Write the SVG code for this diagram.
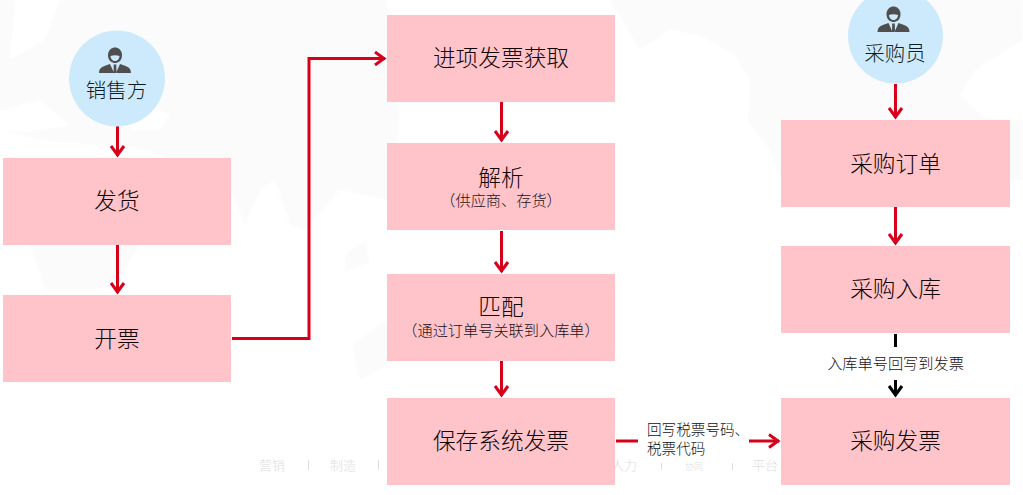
<svg xmlns="http://www.w3.org/2000/svg" width="1023" height="495" viewBox="0 0 1023 495">
<style>
text{font-family:"Liberation Sans","Noto Sans CJK SC",sans-serif;text-anchor:middle;font-weight:300}
.box{fill:#ffc4ca}
.circ{fill:#cdeafd}
.t{font-size:22.7px;fill:#100406}
.c{font-size:20.5px;fill:#101c24}
.s{font-size:15.2px;fill:#1c1216}
.l{font-size:14.6px;fill:#111;text-anchor:start}
.w{font-size:13px;fill:#dedede}
.map{fill:#fbfbfb}
.sep{stroke:#ddd;stroke-width:1}
.r{fill:none;stroke:#d7001b;stroke-width:3}
.k{fill:none;stroke:#000;stroke-width:3}
</style>
<defs>
<filter id="soft"><feGaussianBlur stdDeviation="1.2"/></filter>
<marker id="ar" markerUnits="userSpaceOnUse" markerWidth="16" markerHeight="16" refX="12" refY="8" orient="auto"><path d="M2 1.500L11 8L2 14.500" fill="none" stroke="#d7001b" stroke-width="3"/></marker>
<marker id="ak" markerUnits="userSpaceOnUse" markerWidth="16" markerHeight="16" refX="12" refY="8" orient="auto"><path d="M2 1.500L11 8L2 14.500" fill="none" stroke="#000" stroke-width="3"/></marker>
<g id="person"><path d="M-7-10C-7.500-16-3-18.500 0-18.500S7.500-16 7-10C6.500-5 3-3 0-3S-6.500-5-7-10Z" fill="#4f4f4f"/><path d="M-4.500-10C-4.500-7-2-5 0-5S4.500-7 4.500-10C2-11-2-11-4.500-10Z" fill="#cdeafd"/><path d="M-16 7C-16 1-11 0-5-2L-1 7ZM16 7C16 1 11 0 5-2L1 7ZM-1.300-1.500H1.300L1.500 7H-1.500Z" fill="#4f4f4f"/></g>
</defs>
<rect width="1023" height="495" fill="#fff"/>
<g id="background">
<g filter="url(#soft)">
<path class="map" d="M0 0H610L640 50L670 30L700 35L735 55L750 80L748 120L770 150L781 180H1023V120H1012L985 118L960 95L975 70L1023 40V0L0 0V0L0 130L40 140L150 150L231 190L245 225L260 190L275 180L290 225L305 230L340 190L387 200L400 120L387 0H0Z"/>
<path class="map" d="M30 245L45 290H95L115 285L140 245Z"/>
<path class="map" d="M345 255L365 240L370 262L345 272ZM352 345L387 320V365L360 380Z"/>
<path d="M15 0L60 0L45 40L10 60ZM0 110L40 100L70 125L30 132L0 130ZM140 100L170 115L160 130L130 130Z" fill="#fff"/>
</g>
<g class="w"><text x="272" y="470">营销</text><text x="343" y="470">制造</text><text x="624" y="470">人力</text><text x="694" y="470" style="font-size:9px">协同</text><text x="765" y="470">平台</text></g>
<path class="sep" d="M308.500 460V470M378.500 460V470M661.500 463V470M732.500 463V470"/>
</g>
<g id="connectors">
<path class="r" d="M117.500 124V156" marker-end="url(#ar)"/>
<path class="r" d="M117.500 245V293" marker-end="url(#ar)"/>
<path class="r" d="M232 338.500H309V58.500H385" marker-end="url(#ar)"/>
<path class="r" d="M501.500 102V141" marker-end="url(#ar)"/>
<path class="r" d="M501.500 231V272" marker-end="url(#ar)"/>
<path class="r" d="M501.500 361V396" marker-end="url(#ar)"/>
<path class="r" d="M616 441H638"/>
<path class="r" d="M749 441H779" marker-end="url(#ar)"/>
<path class="r" d="M895.500 84V118" marker-end="url(#ar)"/>
<path class="r" d="M895.500 207V244" marker-end="url(#ar)"/>
<path class="k" d="M895.500 334V347"/>
<path class="k" d="M895.500 380V396" marker-end="url(#ak)"/>
<text class="s" x="895.500" y="369">入库单号回写到发票</text>
<text class="l" x="647" y="435">回写税票号码、</text>
<text class="l" x="647" y="454">税票代码</text>
</g>
<g id="seller"><circle class="circ" cx="117" cy="78.500" r="48"/><use href="#person" x="115" y="66"/><text class="c" x="116.500" y="98">销售方</text></g>
<g id="ship"><rect class="box" x="3" y="158" width="228" height="87"/><text class="t" x="117" y="209">发货</text></g>
<g id="invoice"><rect class="box" x="3" y="295" width="228" height="87"/><text class="t" x="117" y="347">开票</text></g>
<g id="fetch"><rect class="box" x="387" y="15" width="228" height="87"/><text class="t" x="501" y="66">进项发票获取</text></g>
<g id="parse"><rect class="box" x="387" y="143" width="228" height="87"/><text class="t" x="501" y="186">解析</text><text class="s" x="501" y="206">（供应商、存货）</text></g>
<g id="match"><rect class="box" x="387" y="274" width="228" height="87"/><text class="t" x="501" y="315">匹配</text><text class="s" x="501" y="336">（通过订单号关联到入库单）</text></g>
<g id="save"><rect class="box" x="387" y="398" width="228" height="87"/><text class="t" x="501" y="449">保存系统发票</text></g>
<g id="buyer"><circle class="circ" cx="895.500" cy="36" r="47.500"/><use href="#person" x="893.500" y="25"/><text class="c" x="895" y="61">采购员</text></g>
<g id="po"><rect class="box" x="781" y="120" width="229" height="87"/><text class="t" x="895.500" y="172">采购订单</text></g>
<g id="stockin"><rect class="box" x="781" y="246" width="229" height="87"/><text class="t" x="895.500" y="297">采购入库</text></g>
<g id="pinv"><rect class="box" x="781" y="398" width="229" height="87"/><text class="t" x="895.500" y="449">采购发票</text></g>
</svg>
